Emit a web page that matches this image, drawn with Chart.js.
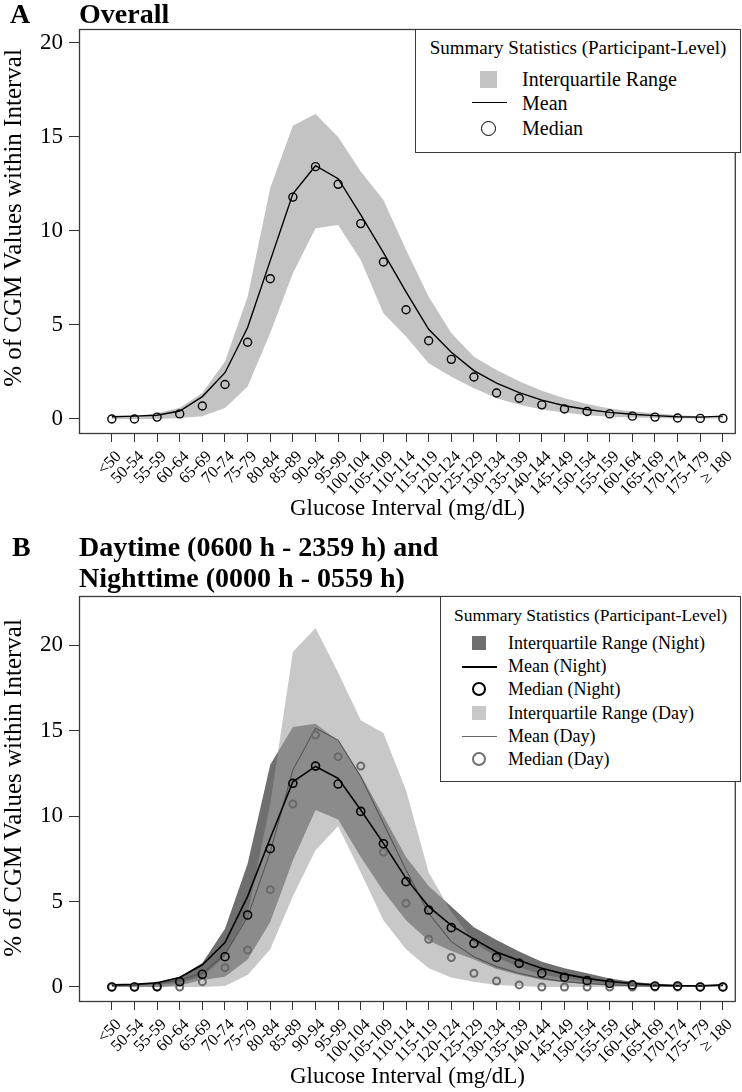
<!DOCTYPE html>
<html>
<head>
<meta charset="utf-8">
<script src="https://cdn.jsdelivr.net/npm/chart.js@4.4.1/dist/chart.umd.min.js"></script>
<style>
body{margin:0;background:#fff;}
#wrap{position:relative;width:742px;height:1092px;overflow:hidden;background:#fff;font-family:"Liberation Serif","Times New Roman",serif;color:#000;}
canvas{position:absolute;left:0;}
.t{position:absolute;white-space:nowrap;}
.ttl{font-weight:bold;font-size:28px;height:32px;line-height:32px;}
.ytl{position:absolute;white-space:nowrap;font-size:25px;line-height:28px;transform:translate(-50%,-50%) rotate(-90deg);}
.leg{position:absolute;border:1.3px solid #3a3a3a;background:#fff;box-sizing:border-box;}
.sq{position:absolute;}
.ln{position:absolute;height:0;}
.ci{position:absolute;border-radius:50%;box-sizing:border-box;}
</style>
</head>
<body>
<div id="wrap">
  <canvas id="chartA" width="742" height="524" style="top:0"></canvas>
  <canvas id="chartB" width="742" height="562" style="top:530px"></canvas>

  <div class="t ttl" style="left:10px;top:-2px">A</div>
  <div class="t ttl" style="left:79px;top:-2px">Overall</div>
  <div class="t ttl" style="left:12px;top:531px">B</div>
  <div class="t ttl" style="left:79px;top:531px">Daytime (0600 h - 2359 h) and</div>
  <div class="t ttl" style="left:79px;top:562px">Nighttime (0000 h - 0559 h)</div>

  <div class="ytl" style="left:13px;top:218px">% of CGM Values within Interval</div>
  <div class="ytl" style="left:13px;top:788px">% of CGM Values within Interval</div>

  <!-- legend A -->
  <div class="leg" style="left:415px;top:29px;width:326px;height:124px"></div>
  <div class="t" style="left:415px;width:326px;text-align:center;top:37px;font-size:19px;line-height:22px">Summary Statistics (Participant-Level)</div>
  <div class="sq" style="left:480px;top:71px;width:17px;height:17px;background:#c3c3c3"></div>
  <div class="t" style="left:522px;top:67px;font-size:20px;line-height:24px">Interquartile Range</div>
  <div class="ln" style="left:472px;top:102px;width:35px;border-top:1.6px solid #000"></div>
  <div class="t" style="left:522px;top:91px;font-size:20px;line-height:24px">Mean</div>
  <div class="ci" style="left:481px;top:121px;width:15px;height:15px;border:1.6px solid #000"></div>
  <div class="t" style="left:522px;top:116px;font-size:20px;line-height:24px">Median</div>

  <!-- legend B -->
  <div class="leg" style="left:440px;top:596px;width:301px;height:186px"></div>
  <div class="t" style="left:440px;width:301px;text-align:center;top:604px;font-size:17.5px;line-height:22px">Summary Statistics (Participant-Level)</div>
  <div class="sq" style="left:472px;top:636px;width:14px;height:14px;background:#6f6f6f"></div>
  <div class="t" style="left:508px;top:632px;font-size:18px;line-height:22px">Interquartile Range (Night)</div>
  <div class="ln" style="left:462px;top:666px;width:35px;border-top:2px solid #000"></div>
  <div class="t" style="left:508px;top:655px;font-size:18px;line-height:22px">Mean (Night)</div>
  <div class="ci" style="left:472px;top:682px;width:14px;height:14px;border:2.2px solid #000"></div>
  <div class="t" style="left:508px;top:678px;font-size:18px;line-height:22px">Median (Night)</div>
  <div class="sq" style="left:472px;top:706px;width:14px;height:14px;background:#c8c8c8"></div>
  <div class="t" style="left:508px;top:702px;font-size:18px;line-height:22px">Interquartile Range (Day)</div>
  <div class="ln" style="left:462px;top:736px;width:35px;border-top:1.4px solid #666"></div>
  <div class="t" style="left:508px;top:725px;font-size:18px;line-height:22px">Mean (Day)</div>
  <div class="ci" style="left:472px;top:752px;width:14px;height:14px;border:2px solid #707070"></div>
  <div class="t" style="left:508px;top:748px;font-size:18px;line-height:22px">Median (Day)</div>
</div>

<script>
// glucose intervals (x categories)
const cats=['<50','50-54','55-59','60-64','65-69','70-74','75-79','80-84','85-89','90-94','95-99','100-104','105-109','110-114','115-119','120-124','125-129','130-134','135-139','140-144','145-149','150-154','155-159','160-164','165-169','170-174','175-179','≥ 180'];
const yTicks=[0,5,10,15,20];

// panel A - overall
const allMedian=[0,0,0.1,0.27,0.69,1.83,4.08,7.46,11.8,13.42,12.48,10.39,8.35,5.81,4.16,3.17,2.23,1.38,1.1,0.75,0.53,0.4,0.27,0.15,0.1,0.05,0.03,0.03];
const allMean=[0.12,0.15,0.2,0.42,1.19,2.46,4.86,8.42,11.97,13.47,12.78,10.85,8.85,6.76,4.77,3.55,2.57,1.9,1.4,1.0,0.7,0.5,0.35,0.25,0.18,0.12,0.1,0.15];
const allQ3=[0.15,0.15,0.3,0.6,1.38,3.05,6.5,12.28,15.6,16.22,15.0,13.16,11.65,9.0,6.5,4.57,3.31,2.6,2.0,1.5,1.1,0.8,0.55,0.4,0.3,0.2,0.15,0.15];
const allQ1=[0,0,0,0.05,0.15,0.58,1.72,4.57,7.75,10.14,10.32,8.46,5.62,4.38,2.96,2.25,1.63,1.1,0.75,0.5,0.35,0.2,0.12,0.08,0.05,0.03,0.02,0.02];

// panel B - night
const nightMedian=[0,0,0.02,0.31,0.74,1.77,4.21,8.09,11.91,12.92,11.87,10.27,8.38,6.16,4.5,3.47,2.55,1.73,1.38,0.8,0.57,0.37,0.21,0.12,0.06,0.06,0,0];
const nightMean=[0.12,0.15,0.25,0.55,1.3,2.6,5.3,8.7,12.0,12.9,12.2,10.35,8.4,6.35,4.7,3.6,2.8,2.05,1.55,1.1,0.75,0.5,0.32,0.2,0.12,0.08,0.07,0.12];
const nightQ3=[0.15,0.15,0.25,0.6,1.4,3.4,7.2,13.0,15.2,15.4,14.4,12.4,10.0,7.6,5.9,4.7,3.5,2.75,2.07,1.48,1.09,0.8,0.5,0.31,0.18,0.1,0.06,0.1];
const nightQ1=[0,0,0,0.1,0.4,0.6,1.6,3.8,7.4,10.35,9.8,7.6,5.6,3.9,2.7,2.1,1.6,1.05,0.7,0.42,0.27,0.16,0.08,0.04,0.02,0.02,0.02,0.02];
// panel B - day
const dayMedian=[0,0,0,0,0.31,1.13,2.16,5.69,10.7,14.74,13.47,12.92,7.89,4.89,2.79,1.72,0.8,0.35,0.12,0,0,0,0,0,0,0,0,0];
const dayMean=[0.1,0.12,0.2,0.4,0.8,1.9,4.1,7.9,12.7,15.13,14.44,12.3,9.57,6.84,4.31,2.65,1.77,1.19,0.8,0.5,0.31,0.21,0.12,0.08,0.05,0.05,0.05,0.1];
const dayQ3=[0.1,0.1,0.15,0.25,0.6,1.8,4.3,10.7,19.6,21.0,18.4,15.6,14.85,11.5,6.7,4.4,2.6,1.75,1.15,0.75,0.48,0.32,0.2,0.14,0.1,0.08,0.08,0.1];
const dayQ1=[0,0,0,0,0,0.05,0.7,2.2,5.3,8.0,9.4,6.7,3.9,2.2,1.1,0.55,0.3,0.12,0.05,0,0,0,0,0,0,0,0,0];

const FONT='"Liberation Serif","Times New Roman",serif';
const pts=arr=>arr.map((v,i)=>({x:i,y:v}));

// frame round the plot area
const framePlugin={id:'frame',afterDraw(ch){
  const a=ch.chartArea,c=ch.ctx;
  c.save();c.strokeStyle='#3a3a3a';c.lineWidth=1.3;
  c.strokeRect(a.left+0.5,a.top+0.5,a.right-a.left-1,a.bottom-a.top-1);
  c.restore();
}};

function makeScales(yMin,yMax,xAxisH){
  return {
    x:{type:'linear',min:-1.45,max:27.57,
      afterBuildTicks:s=>{s.ticks=cats.map((c,i)=>({value:i}));},
      afterFit:s=>{s.height=xAxisH;},
      ticks:{autoSkip:false,maxRotation:45,minRotation:45,padding:5,labelOffset:7,color:'#000',
        font:{family:FONT,size:16.5},callback:v=>cats[Math.round(v)]},
      grid:{drawOnChartArea:false,drawTicks:true,tickLength:8,color:'#333',lineWidth:1},
      border:{display:false},
      title:{display:true,text:'Glucose Interval (mg/dL)',color:'#000',font:{family:FONT,size:23},padding:{top:0,bottom:1}}
    },
    y:{type:'linear',min:yMin,max:yMax,
      afterBuildTicks:s=>{s.ticks=yTicks.map(v=>({value:v}));},
      afterFit:s=>{s.width=79;},
      ticks:{padding:6,color:'#000',font:{family:FONT,size:23}},
      grid:{drawOnChartArea:false,drawTicks:true,tickLength:10,color:'#333',lineWidth:1},
      border:{display:false}
    }
  };
}

const baseOpts=(top,scales)=>({
  responsive:false,animation:false,devicePixelRatio:1,
  layout:{padding:{top:top,right:1,left:0,bottom:0}},
  plugins:{legend:{display:false},tooltip:{enabled:false},title:{display:false}},
  scales:scales
});

// first dataset in the list is drawn on top
new Chart(document.getElementById('chartA'),{
  type:'line',
  data:{datasets:[
    {label:'Median',data:pts(allMedian),showLine:false,pointRadius:4,pointBorderWidth:1.4,pointBorderColor:'#000',pointBackgroundColor:'rgba(0,0,0,0)'},
    {label:'Mean',data:pts(allMean),borderColor:'#000',borderWidth:1.4,pointRadius:0,tension:0,fill:false},
    {label:'Q3',data:pts(allQ3),borderWidth:0,pointRadius:0,fill:'+1',backgroundColor:'#c3c3c3',tension:0},
    {label:'Q1',data:pts(allQ1),borderWidth:0,pointRadius:0,fill:false,tension:0}
  ]},
  options:baseOpts(29,makeScales(-0.8,20.74,90)),
  plugins:[framePlugin]
});

new Chart(document.getElementById('chartB'),{
  type:'line',
  data:{datasets:[
    {label:'Median (Night)',data:pts(nightMedian),showLine:false,pointRadius:4,pointBorderWidth:1.6,pointBorderColor:'#000',pointBackgroundColor:'rgba(0,0,0,0)'},
    {label:'Median (Day)',data:pts(dayMedian),showLine:false,pointRadius:3.5,pointBorderWidth:2,pointBorderColor:'#6a6a6a',pointBackgroundColor:'rgba(0,0,0,0)'},
    {label:'Mean (Night)',data:pts(nightMean),borderColor:'#000',borderWidth:1.6,pointRadius:0,tension:0,fill:false},
    {label:'Mean (Day)',data:pts(dayMean),borderColor:'#555',borderWidth:1.1,pointRadius:0,tension:0,fill:false},
    {label:'Q3 (Day)',data:pts(dayQ3),borderWidth:0,pointRadius:0,fill:'+1',backgroundColor:'rgba(161,161,161,0.58)',tension:0},
    {label:'Q1 (Day)',data:pts(dayQ1),borderWidth:0,pointRadius:0,fill:false,tension:0},
    {label:'Q3 (Night)',data:pts(nightQ3),borderWidth:0,pointRadius:0,fill:'+1',backgroundColor:'#6f6f6f',tension:0},
    {label:'Q1 (Night)',data:pts(nightQ1),borderWidth:0,pointRadius:0,fill:false,tension:0}
  ]},
  options:baseOpts(66,makeScales(-0.88,22.87,90)),
  plugins:[framePlugin]
});
</script>
</body>
</html>
